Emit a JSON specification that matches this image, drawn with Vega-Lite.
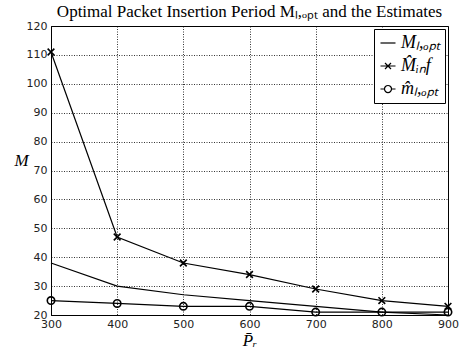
{
  "$schema": "https://vega.github.io/schema/vega-lite/v6.json",
  "width": 397,
  "height": 289,
  "autosize": "none",
  "padding": {"left": 51, "top": 26, "right": 13, "bottom": 33},
  "title": {
    "text": "Optimal Packet Insertion Period Mₗ,ₒₚₜ and the Estimates",
    "font": "Liberation Serif",
    "fontSize": 17,
    "fontWeight": "normal",
    "color": "black",
    "anchor": "middle",
    "offset": -1
  },
  "config": {
    "view": {"stroke": "black", "strokeWidth": 1},
    "axis": {
      "labelFont": "DejaVu Sans",
      "labelFontSize": 11,
      "labelColor": "#222",
      "labelFlush": false,
      "labelOverlap": false,
      "domainColor": "black",
      "ticks": false,
      "grid": true,
      "gridColor": "black",
      "gridDash": [1, 1.5],
      "gridWidth": 0.8,
      "gridOpacity": 1
    }
  },
  "data": {
    "values": [
      {"P": 300, "M": 38, "s": "Mopt"},
      {"P": 400, "M": 30, "s": "Mopt"},
      {"P": 500, "M": 27, "s": "Mopt"},
      {"P": 600, "M": 25, "s": "Mopt"},
      {"P": 700, "M": 23, "s": "Mopt"},
      {"P": 800, "M": 21, "s": "Mopt"},
      {"P": 900, "M": 20, "s": "Mopt"},
      {"P": 300, "M": 111, "s": "Minf"},
      {"P": 400, "M": 47, "s": "Minf"},
      {"P": 500, "M": 38, "s": "Minf"},
      {"P": 600, "M": 34, "s": "Minf"},
      {"P": 700, "M": 29, "s": "Minf"},
      {"P": 800, "M": 25, "s": "Minf"},
      {"P": 900, "M": 23, "s": "Minf"},
      {"P": 300, "M": 25, "s": "mhat"},
      {"P": 400, "M": 24, "s": "mhat"},
      {"P": 500, "M": 23, "s": "mhat"},
      {"P": 600, "M": 23, "s": "mhat"},
      {"P": 700, "M": 21, "s": "mhat"},
      {"P": 800, "M": 21, "s": "mhat"},
      {"P": 900, "M": 21, "s": "mhat"}
    ]
  },
  "encoding": {
    "x": {
      "field": "P",
      "type": "quantitative",
      "scale": {"domain": [300, 900], "nice": false, "zero": false},
      "axis": {
        "values": [300, 400, 500, 600, 700, 800, 900],
        "title": "P̄ᵣ",
        "titleFont": "Liberation Serif",
        "titleFontStyle": "italic",
        "titleFontWeight": "normal",
        "titleFontSize": 17,
        "titleBaseline": "middle",
        "titleY": 25,
        "labelPadding": 3
      }
    },
    "y": {
      "field": "M",
      "type": "quantitative",
      "scale": {"domain": [20, 120], "nice": false, "zero": false},
      "axis": {
        "values": [20, 30, 40, 50, 60, 70, 80, 90, 100, 110, 120],
        "title": "M",
        "titleFont": "Liberation Serif",
        "titleFontStyle": "italic",
        "titleFontWeight": "normal",
        "titleFontSize": 17,
        "titleAngle": 0,
        "titleAlign": "center",
        "titleBaseline": "middle",
        "titleX": -30,
        "titleY": 134,
        "labelPadding": 4
      }
    }
  },
  "layer": [
    {
      "mark": {"type": "line", "color": "black", "strokeWidth": 1.2},
      "encoding": {"detail": {"field": "s"}}
    },
    {
      "transform": [{"filter": "datum.s != 'Mopt'"}],
      "mark": {"type": "point", "filled": false, "stroke": "black", "strokeWidth": 1.6, "opacity": 1},
      "encoding": {
        "shape": {
          "field": "s",
          "scale": {"domain": ["Minf", "mhat"], "range": ["M-1,-1L1,1M-1,1L1,-1", "circle"]},
          "legend": null
        },
        "size": {"field": "s", "scale": {"domain": ["Minf", "mhat"], "range": [45, 55]}, "legend": null}
      }
    },
    {
      "mark": {"type": "point", "filled": false, "stroke": "black", "strokeWidth": 1.4, "opacity": 0},
      "encoding": {
        "shape": {
          "field": "s",
          "scale": {
            "domain": ["Mopt", "Minf", "mhat"],
            "range": [
              "M-1,0L1,0",
              "M-1,0L1,0M-0.4,-0.4L0.4,0.4M-0.4,0.4L0.4,-0.4",
              "M-1,0L-0.47,0M0.47,0L1,0M0.47,0A0.47,0.47 0 1,1 -0.47,0A0.47,0.47 0 1,1 0.47,0"
            ]
          },
          "legend": {
            "title": null,
            "orient": "top-right",
            "offset": 3,
            "padding": 5,
            "strokeColor": "black",
            "fillColor": "white",
            "symbolSize": 225,
            "symbolOpacity": 1,
            "symbolStrokeColor": "black",
            "symbolStrokeWidth": 1.2,
            "symbolFillColor": "transparent",
            "labelFont": "Liberation Serif",
            "labelFontStyle": "italic",
            "labelFontSize": 18,
            "labelColor": "black",
            "rowPadding": 5,
            "labelExpr": "datum.label == 'Mopt' ? 'Mₗ,ₒₚₜ' : datum.label == 'Minf' ? 'M̂ᵢₙf' : 'm̂ₗ,ₒₚₜ'"
          }
        }
      }
    }
  ],
  "resolve": {"scale": {"shape": "independent", "size": "independent"}}
}
